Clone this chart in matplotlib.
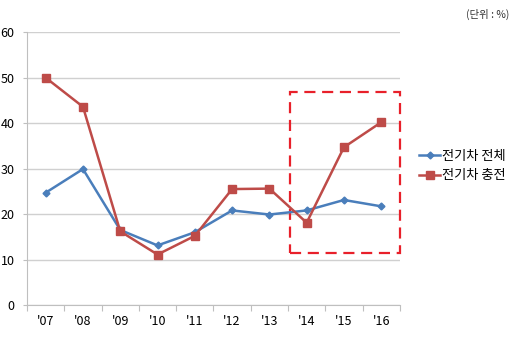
import matplotlib
matplotlib.use("Agg")
import matplotlib.pyplot as plt
from matplotlib.patches import Rectangle
import numpy as np

plt.rcParams['font.family'] = ['Noto Sans CJK KR', 'DejaVu Sans']

years = ["'07", "'08", "'09", "'10", "'11", "'12", "'13", "'14", "'15", "'16"]
total = [24.7, 29.9, 16.5, 13.1, 16.0, 20.8, 19.9, 20.8, 23.1, 21.7]
charge = [50.0, 43.6, 16.2, 11.1, 15.2, 25.5, 25.6, 18.1, 34.7, 40.2]
labels = ["전기차 전체", "전기차 충전"]

fig = plt.figure(figsize=(5.2, 3.57), dpi=100)
ax = fig.add_axes([0.052, 0.1457, 0.717, 0.764])

x = np.arange(len(years))
ax.plot(x, total, color="#4A7EBB", lw=1.8, marker="D", ms=3.5, label=labels[0])
ax.plot(x, charge, color="#BE4B48", lw=1.8, marker="s", ms=5.5, label=labels[1])

ax.set_xlim(-0.5, len(years) - 0.5)
ax.set_ylim(0, 60)
ax.set_yticks(range(0, 61, 10))
ax.yaxis.grid(True, color="#D0D0D0", lw=1)
ax.set_axisbelow(True)

# category axis: ticks between categories, labels at centres
ax.set_xticks(np.arange(-0.5, len(years), 1))
ax.set_xticklabels([])
ax.set_xticks(x, minor=True)
ax.set_xticklabels(years, minor=True)
ax.tick_params(axis="x", which="major", length=4, color="#BFBFBF", direction="out")
ax.tick_params(axis="x", which="minor", length=0, pad=7, labelsize=9)
ax.tick_params(axis="y", length=3, color="#BFBFBF", labelsize=9, pad=6)

for s in ["top", "right"]:
    ax.spines[s].set_visible(False)
for s in ["left", "bottom"]:
    ax.spines[s].set_color("#BFBFBF")

# highlight box
rect = Rectangle((6.56, 11.4), 2.93, 35.5, fill=False, ec="#E8202A", lw=1.6,
                 ls=(0, (5, 3)), clip_on=False)
ax.add_patch(rect)

ax.legend(loc="center left", bbox_to_anchor=(1.02, 0.51), frameon=False,
          fontsize=9.5, handlelength=1.6, handletextpad=0.1, labelspacing=0.5)

fig.text(0.98, 0.975, "(단위 : %)", ha="right", va="top", fontsize=7.5, color="#333333")

fig.savefig("out.png", dpi=100)
